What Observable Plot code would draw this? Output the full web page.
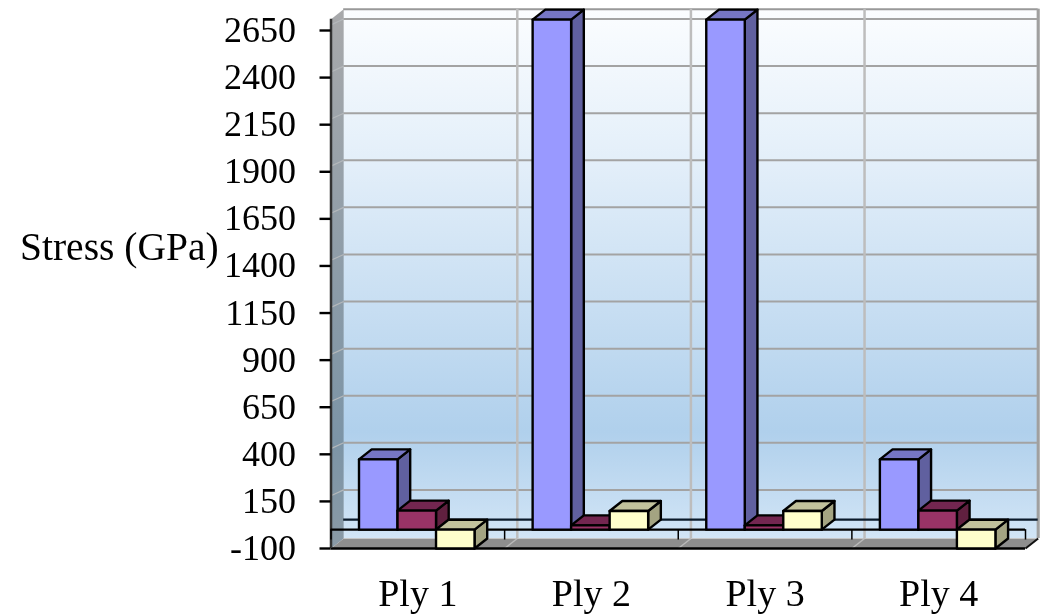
<!DOCTYPE html>
<html>
<head>
<meta charset="utf-8">
<script src="https://cdn.jsdelivr.net/npm/d3@7"></script>
<script src="https://cdn.jsdelivr.net/npm/@observablehq/plot@0.6"></script>
<style>
html,body{margin:0;padding:0;background:#fff;overflow:hidden}
svg{display:block;filter:blur(0.4px)}
</style>
</head>
<body>
<div id="chart"></div>
<script>
const plies = ["Ply 1", "Ply 2", "Ply 3", "Ply 4"];
const stressTicks = [-100, 150, 400, 650, 900, 1150, 1400, 1650, 1900, 2150, 2400, 2650];
const series1 = [373, 2708, 2708, 373];
const series2 = [101, 23, 23, 101];
const series3 = [-100, 99, 99, -100];
const yLabel = "Stress (GPa)";

const frontColors = ["#9999ff", "#993366", "#ffffcc"];
const topColors = ["#7676c4", "#732650", "#c2c29c"];
const sideColors = ["#60609f", "#60203f", "#a4a482"];

// depth of the 3-D box, in scale units
const depthX = 0.073, depthY = 53, gridDepthY = 61;
const axisMax = 2710, axisMin = -100;
const barWidth = 0.2218, groupStart = 0.1613;

const polys = [];
function poly(id, fill, pts) {
  for (const [x, y] of pts) polys.push({id, fill, x, y});
}
plies.forEach((_, i) => {
  [series1, series2, series3].forEach((s, k) => {
    const v = s[i];
    const x0 = i + groupStart + k * barWidth, x1 = x0 + barWidth;
    const hi = Math.max(0, v), lo = Math.min(0, v);
    poly(`s${i}${k}`, sideColors[k], [[x1, lo], [x1 + depthX, lo + depthY], [x1 + depthX, hi + depthY], [x1, hi]]);
    poly(`t${i}${k}`, topColors[k], [[x0, hi], [x1, hi], [x1 + depthX, hi + depthY], [x0 + depthX, hi + depthY]]);
    poly(`f${i}${k}`, frontColors[k], [[x0, lo], [x1, lo], [x1, hi], [x0, hi]]);
  });
});

const wallTop = axisMax + depthY, wallBottom = axisMin + depthY;
const gridValues = stressTicks.slice(1);
const catEdges = [0, 1, 2, 3, 4];

const defs = () => {
  const d = d3.create("svg:defs");
  const g = d.append("linearGradient").attr("id", "wallFill").attr("x1", 0).attr("x2", 0).attr("y1", 0).attr("y2", 1);
  [[0, "#fbfdff"], [0.3, "#e2eef9"], [0.8, "#b0d0ec"], [1, "#d2e5f6"]].forEach(([o, c]) =>
    g.append("stop").attr("offset", o).attr("stop-color", c));
  const l = d.append("linearGradient").attr("id", "leftFill").attr("x1", 0).attr("x2", 0).attr("y1", 0).attr("y2", 1);
  [[0, "#a8a9ab"], [0.8, "#7c94a6"], [1, "#8a9aa6"]].forEach(([o, c]) =>
    l.append("stop").attr("offset", o).attr("stop-color", c));
  return d.node();
};

const chart = Plot.plot({
  width: 1050,
  height: 616,
  marginLeft: 330.5,
  marginRight: 25,
  marginTop: 30,
  marginBottom: 68,
  style: {fontFamily: "'Liberation Serif', serif", color: "#000", background: "#fff"},
  x: {domain: [0, 4], axis: null},
  y: {domain: [-100, 2650], axis: null},
  marks: [
    defs,
    // back wall
    Plot.rect([0], {x1: depthX, x2: 4 + depthX, y1: wallBottom, y2: wallTop, fill: "url(#wallFill)"}),
    // horizontal gridlines on the back wall
    Plot.ruleY(gridValues, {y: d => d + gridDepthY, x1: depthX, x2: 4 + depthX, stroke: "#a3a3a3", strokeWidth: 2}),
    Plot.ruleY([wallTop], {x1: depthX, x2: 4 + depthX, stroke: "#999", strokeWidth: 2}),
    // vertical gridlines on the back wall
    Plot.ruleX(catEdges.slice(1), {x: d => d + depthX, y1: wallBottom, y2: wallTop, stroke: "#bdbdbd", strokeWidth: 2.5}),
    Plot.ruleX([4], {x: 4 + depthX, y1: wallBottom, y2: wallTop, stroke: "#a0a0a0", strokeWidth: 3}),
    // left wall
    Plot.line([[depthX, wallTop], [depthX, wallBottom], [0, axisMin], [0, axisMax]], {
      x: d => d[0], y: d => d[1], fill: "url(#leftFill)", curve: "linear-closed"
    }),
    Plot.link(gridValues, {x1: 0, x2: depthX, y1: d => d + 30, y2: d => d + gridDepthY, stroke: "#b4b8bb", strokeWidth: 1.2}),
    // floor
    Plot.line([[0, axisMin], [4, axisMin], [4 + depthX, wallBottom], [depthX, wallBottom]], {
      x: d => d[0], y: d => d[1], fill: "#8e8e8e", curve: "linear-closed"
    }),
    Plot.link(catEdges.slice(1, 4), {x1: d => d, x2: d => d + depthX, y1: axisMin, y2: wallBottom, stroke: "#b9b9b9", strokeWidth: 1.5}),
    Plot.link([4], {x1: 4, x2: 4 + depthX, y1: axisMin, y2: wallBottom, stroke: "#111", strokeWidth: 2}),
    Plot.ruleY([axisMin], {x1: 0, x2: 4, stroke: "#000", strokeWidth: 2.4}),
    Plot.ruleX([0], {y1: axisMin, y2: axisMax, stroke: "#333", strokeWidth: 2.5}),
    // zero plane
    Plot.ruleY([depthY], {x1: depthX, x2: 4 + depthX, stroke: "#0b1a2a", strokeWidth: 2.2}),
    Plot.ruleY([0], {x1: 0, x2: 4, stroke: "#000", strokeWidth: 2.4}),
    Plot.ruleX(catEdges, {x: d => d, y1: 0, y2: -55, stroke: "#000", strokeWidth: 1.5}),
    // bars
    Plot.line(polys, {x: "x", y: "y", z: "id", fill: "fill", stroke: "#000", strokeWidth: 2.4, curve: "linear-closed"}),
    // axes
    Plot.axisY({ticks: stressTicks, tickSize: 11, tickPadding: 24, tickFormat: d => String(d), fontSize: 36, strokeWidth: 2.4, label: null}),
    Plot.axisX({ticks: plies.map((_, i) => i + 0.5), tickFormat: d => plies[Math.floor(d)], tickSize: 0, tickPadding: 31, fontSize: 38, label: null}),
    Plot.text([yLabel], {frameAnchor: "left", y: [1497], text: d => d, textAnchor: "start", dx: -311, fontSize: 39.5, fill: "#000"})
  ]
});
document.getElementById("chart").append(chart);
</script>
</body>
</html>
